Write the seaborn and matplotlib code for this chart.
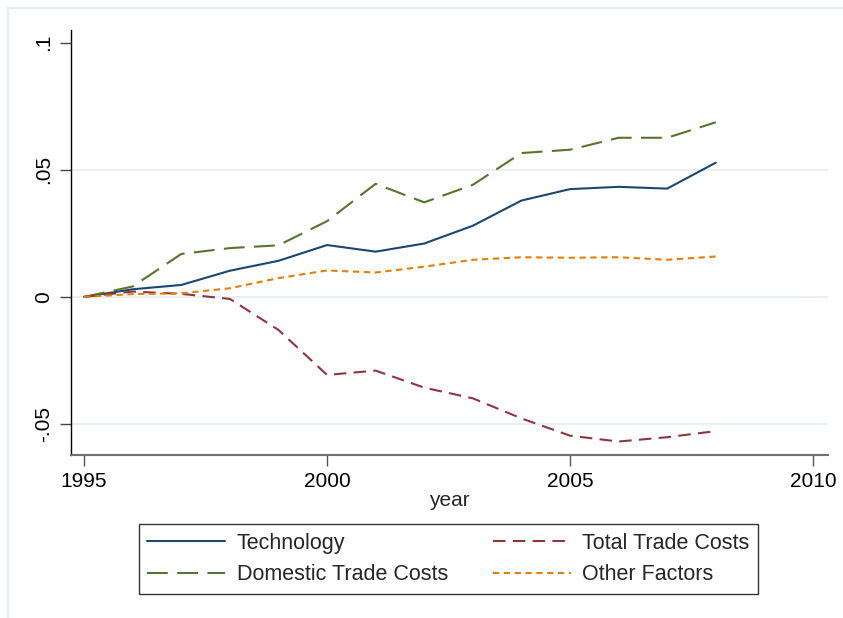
import numpy as np
import pandas as pd
import matplotlib
matplotlib.use("Agg")
import matplotlib.pyplot as plt
from matplotlib.patches import Rectangle
import seaborn as sns

years = list(range(1995, 2009))
technology = [0.0, 0.0030, 0.0047, 0.0103, 0.0142, 0.0204, 0.0178, 0.0210,
              0.0280, 0.0379, 0.0424, 0.0433, 0.0426, 0.0528]
total_trade = [0.0, 0.0021, 0.0012, -0.0008, -0.0130, -0.0307, -0.0290, -0.0357,
               -0.0399, -0.0478, -0.0546, -0.0569, -0.0552, -0.0528]
domestic_trade = [0.0, 0.0041, 0.0169, 0.0192, 0.0203, 0.0298, 0.0445, 0.0372,
                  0.0441, 0.0566, 0.0579, 0.0626, 0.0626, 0.0687]
other_factors = [0.0, 0.0011, 0.0014, 0.0034, 0.0074, 0.0104, 0.0096, 0.0119,
                 0.0146, 0.0156, 0.0154, 0.0156, 0.0146, 0.0159]

series_names = ["Technology", "Domestic Trade Costs", "Total Trade Costs", "Other Factors"]
colors = {"Technology": "#1a476f", "Total Trade Costs": "#90353b",
          "Domestic Trade Costs": "#55752f", "Other Factors": "#e37e00"}
dashes = {"Technology": "", "Total Trade Costs": (6, 3.5),
          "Domestic Trade Costs": (10, 4.5), "Other Factors": (3, 2.2)}

df = pd.concat([
    pd.DataFrame({"year": years, "value": technology, "series": "Technology"}),
    pd.DataFrame({"year": years, "value": domestic_trade, "series": "Domestic Trade Costs"}),
    pd.DataFrame({"year": years, "value": total_trade, "series": "Total Trade Costs"}),
    pd.DataFrame({"year": years, "value": other_factors, "series": "Other Factors"}),
])

sns.set_style("white")
plt.rcParams["font.family"] = ["Liberation Sans", "DejaVu Sans"]

fig = plt.figure(figsize=(8.43, 6.18), dpi=100)
ax = fig.add_axes([71 / 843, 1 - 455 / 618, (828 - 71) / 843, (455 - 30) / 618])

# light outer frame like the stata graph region
fig.patches.append(Rectangle((8 / 843, -0.05), 1.0, 1 - 8 / 618 + 0.05,
                             transform=fig.transFigure, fill=False,
                             edgecolor="#e6edf1", lw=1.5))

sns.lineplot(data=df, x="year", y="value", hue="series", style="series",
             hue_order=series_names, style_order=series_names,
             palette=colors, dashes=dashes, lw=1.5, ax=ax)

ax.set_xlim(1994.73, 2010.31)
ax.set_ylim(-0.0622, 0.105)
ax.set_xticks([1995, 2000, 2005, 2010])
ax.set_yticks([-0.05, 0, 0.05, 0.1])
ax.set_yticklabels(["-.05", "0", ".05", ".1"], rotation=90, va="center")
ax.tick_params(axis="both", labelsize=15, direction="out", width=1,
               bottom=True, left=True)
ax.tick_params(axis="x", length=8, color="#555555", labelcolor="black", pad=4)
ax.tick_params(axis="y", length=8, color="#444444", labelcolor="black", pad=5)

ax.grid(axis="y", color="#e8f0f3", lw=1.5)
ax.set_axisbelow(True)
for gl, t in zip(ax.yaxis.get_gridlines(), ax.get_yticks()):
    if abs(t - 0.1) < 1e-9:
        gl.set_visible(False)

for s in ["top", "right"]:
    ax.spines[s].set_visible(False)
ax.spines["left"].set_color("black")
ax.spines["bottom"].set_color("#6f6f6f")
ax.spines["left"].set_linewidth(1)
ax.spines["bottom"].set_linewidth(1.5)

ax.set_xlabel("year", fontsize=15, labelpad=0)
ax.set_ylabel("")

handles, labels = ax.get_legend_handles_labels()
ax.get_legend().remove()
leg = fig.legend(handles, labels, loc="center", bbox_to_anchor=(0.532, 0.0955),
                 ncol=2, fontsize=15.5, frameon=True, fancybox=False,
                 edgecolor="black", handlelength=3.6, columnspacing=2.1,
                 handletextpad=0.55, labelspacing=0.5, borderpad=0.4)
leg.get_frame().set_linewidth(1)

fig.savefig("out.png", dpi=100)
